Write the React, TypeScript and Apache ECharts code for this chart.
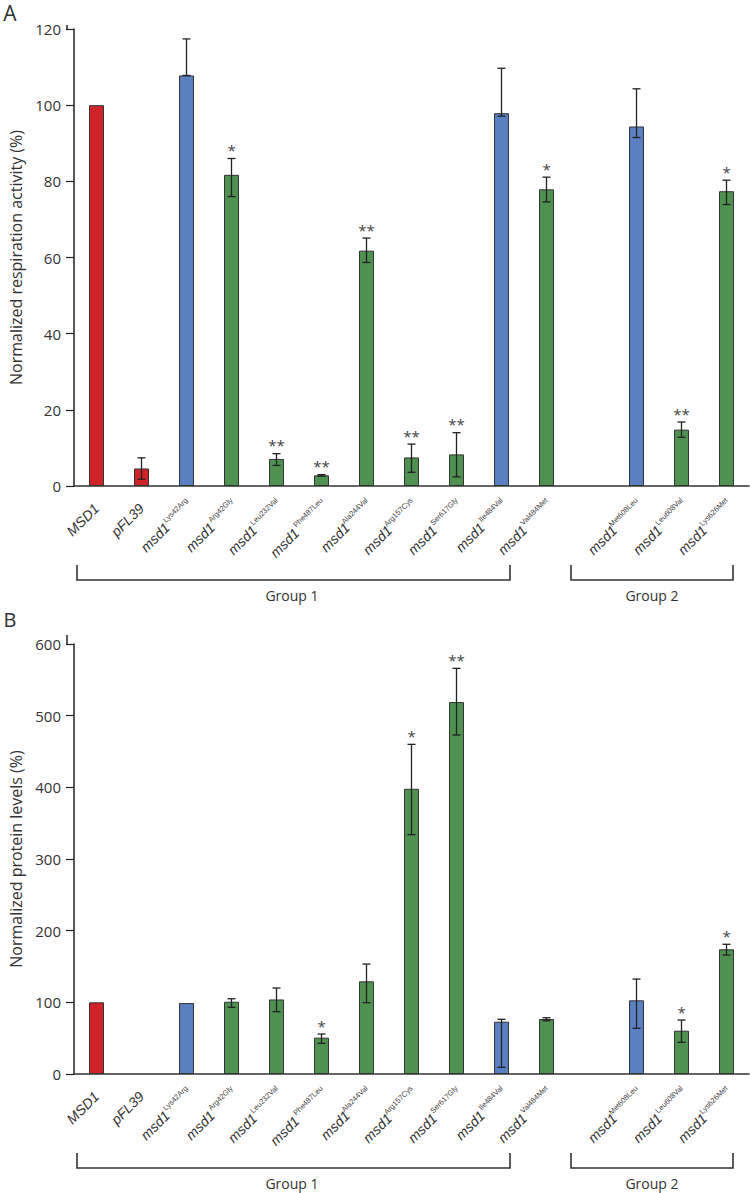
import React, { useEffect, useRef } from 'react';
import * as echarts from 'echarts';

// Categories (index 11 is an empty spacer slot between groups)
const variants = ['MSD1', 'pFL39', 'Lys42Arg', 'Arg42Gly', 'Leu232Val', 'Phe487Leu', 'Ala244Val', 'Arg157Cys', 'Ser617Gly', 'Ile484Val', 'Val484Met', '', 'Met608Leu', 'Leu608Val', 'Lys626Met'];
const kinds = ['control', 'control', 'neutral', 'variant', 'variant', 'variant', 'variant', 'variant', 'variant', 'neutral', 'variant', '', 'neutral', 'variant', 'variant'];

// Panel A: normalized respiration activity (%)
const respValues = [100, 4.6, 107.8, 81.7, 7.1, 2.8, 61.8, 7.5, 8.3, 97.9, 77.9, null, 94.4, 14.8, 77.4];
const respLow = [null, 1.8, 107.8, 76.0, 5.4, 2.6, 58.7, 3.6, 2.4, 97.1, 74.6, null, 91.5, 12.8, 73.9];
const respHigh = [null, 7.4, 117.4, 86.0, 8.5, 3.0, 65.1, 11.0, 14.0, 109.7, 81.1, null, 104.3, 16.8, 80.3];
const respStars = ['', '', '', '*', '**', '**', '**', '**', '**', '', '*', '', '', '**', '*'];

// Panel B: normalized protein levels (%)
const protValues = [100, null, 99, 100.8, 104, 50.7, 129.3, 398, 519, 73, 76.7, null, 102.8, 60.4, 174];
const protLow = [null, null, null, 93, 87, 42.8, 99.5, 334, 473, 9.3, 74.4, null, 63.7, 44.2, 166];
const protHigh = [null, null, null, 105, 120, 55.8, 153.4, 460, 566, 76.3, 78.5, null, 132.5, 75.3, 181];
const protStars = ['', '', '', '', '', '*', '', '*', '**', '', '', '', '', '*', '*'];

const groups = ['Group 1', 'Group 2'];

const FONT = 'Open Sans';
const LABEL_SIZE = 14;
const SUP_SIZE = 7.5;
const kindColor: Record<string, string> = {
  control: '#cf2329',
  neutral: '#5b80c2',
  variant: '#4f9150',
};

function barData(values: (number | null)[]) {
  return values.map((v, i) =>
    v == null ? '-' : { value: v, itemStyle: { color: kindColor[kinds[i]] } }
  );
}

function errData(low: (number | null)[], high: (number | null)[]) {
  const out: number[][] = [];
  low.forEach((l, i) => {
    const h = high[i];
    if (l != null && h != null) out.push([i, l, h]);
  });
  return out;
}

function errRender(stars: string[]) {
  return (params: any, api: any) => {
    const xi = api.value(0);
    const lo = api.coord([xi, api.value(1)]);
    const hi = api.coord([xi, api.value(2)]);
    const cap = 4;
    const st = { stroke: '#222', lineWidth: 1.3 };
    const children: any[] = [
      { type: 'line', shape: { x1: lo[0], y1: lo[1], x2: hi[0], y2: hi[1] }, style: st },
      { type: 'line', shape: { x1: lo[0] - cap, y1: lo[1], x2: lo[0] + cap, y2: lo[1] }, style: st },
      { type: 'line', shape: { x1: hi[0] - cap, y1: hi[1], x2: hi[0] + cap, y2: hi[1] }, style: st },
    ];
    const s = stars[xi];
    if (s) {
      children.push({
        type: 'text',
        x: hi[0],
        y: hi[1] - 1,
        style: { text: s, align: 'center', verticalAlign: 'bottom', fontSize: 15, fill: '#444', fontFamily: FONT },
      });
    }
    return { type: 'group', children };
  };
}

let measureCtx: CanvasRenderingContext2D | null = null;
function measure(text: string, font: string, fallbackPerChar: number) {
  if (!measureCtx) measureCtx = document.createElement('canvas').getContext('2d');
  if (!measureCtx) return text.length * fallbackPerChar;
  measureCtx.font = font;
  return measureCtx.measureText(text).width;
}

// main label axis: "msd1" (italic) padded with no-break spaces so that the
// superscript (drawn by a second, overlaid axis) sits right after it
function mainAxis(gridIndex: number) {
  const nbspW = measure('\u00A0', `italic ${LABEL_SIZE}px sans-serif`, 3.9) || 3.9;
  return {
    type: 'category',
    gridIndex,
    position: 'bottom',
    data: variants,
    axisTick: { show: false },
    axisLine: { lineStyle: { color: '#333', width: 1.5 } },
    axisLabel: {
      interval: 0,
      rotate: 45,
      margin: 20,
      fontSize: LABEL_SIZE,
      fontStyle: 'italic',
      color: '#333',
      formatter: (value: string, idx: number) => {
        if (!value) return '';
        if (idx <= 1) return value;
        const supW = measure(value, `${SUP_SIZE}px sans-serif`, 4.3);
        const n = Math.max(0, Math.round((supW - 4.5) / nbspW));
        return 'msd1' + '\u00A0'.repeat(n);
      },
    },
  };
}

function supAxis(gridIndex: number) {
  return {
    type: 'category',
    gridIndex,
    position: 'bottom',
    data: variants,
    axisTick: { show: false },
    axisLine: { show: false },
    axisLabel: {
      interval: 0,
      rotate: 45,
      margin: 13,
      fontSize: SUP_SIZE,
      color: '#444',
      formatter: (value: string, idx: number) => (idx <= 1 || !value ? '' : value),
    },
  };
}

const yAxisBase = (gridIndex: number, max: number, interval: number, name: string) => ({
  type: 'value',
  gridIndex,
  min: 0,
  max,
  interval,
  name,
  nameLocation: 'middle',
  nameGap: 50,
  nameTextStyle: { fontSize: 16, color: '#333', fontFamily: FONT },
  axisLine: { show: true, lineStyle: { color: '#222', width: 1.5 } },
  axisTick: { show: true, length: 8, lineStyle: { color: '#222', width: 1.2 } },
  splitLine: { show: false },
  axisLabel: { fontSize: 15, color: '#333', fontFamily: FONT, margin: 13 },
});

function bracket(x1: number, x2: number, yTop: number, yBot: number) {
  return {
    type: 'polyline',
    shape: { points: [[x1, yTop], [x1, yBot], [x2, yBot], [x2, yTop]] },
    style: { stroke: '#333', lineWidth: 1.6, fill: null },
  };
}

function gtext(text: string, x: number, y: number, size: number) {
  return {
    type: 'text',
    x,
    y,
    style: { text, fontSize: size, fill: '#333', fontFamily: FONT, align: 'center', verticalAlign: 'middle' },
  };
}

export default function App() {
  const ref = useRef<HTMLDivElement>(null);
  useEffect(() => {
    if (!ref.current) return;
    const chart = echarts.init(ref.current, null, { renderer: 'svg' });
    chart.setOption({
      animation: false,
      grid: [
        { left: 67, right: 1, top: 29, bottom: 707 },
        { left: 67, right: 1, top: 644, bottom: 119 },
      ],
      xAxis: [mainAxis(0), supAxis(0), mainAxis(1), supAxis(1)],
      yAxis: [
        yAxisBase(0, 120, 20, 'Normalized respiration activity (%)'),
        yAxisBase(1, 600, 100, 'Normalized protein levels (%)'),
      ],
      series: [
        {
          type: 'bar',
          xAxisIndex: 0,
          yAxisIndex: 0,
          barWidth: 15,
          data: barData(respValues),
          itemStyle: { borderColor: '#333', borderWidth: 1 },
          z: 2,
        },
        {
          type: 'custom',
          xAxisIndex: 0,
          yAxisIndex: 0,
          data: errData(respLow, respHigh),
          encode: { x: 0, y: [1, 2] },
          renderItem: errRender(respStars),
          z: 3,
        },
        {
          type: 'bar',
          xAxisIndex: 2,
          yAxisIndex: 1,
          barWidth: 15,
          data: barData(protValues),
          itemStyle: { borderColor: '#333', borderWidth: 1 },
          z: 2,
        },
        {
          type: 'custom',
          xAxisIndex: 2,
          yAxisIndex: 1,
          data: errData(protLow, protHigh),
          encode: { x: 0, y: [1, 2] },
          renderItem: errRender(protStars),
          z: 3,
        },
      ],
      graphic: [
        { type: 'line', shape: { x1: 67, y1: 25, x2: 67, y2: 30 }, style: { stroke: '#222', lineWidth: 1.5 } },
        { type: 'line', shape: { x1: 67, y1: 635, x2: 67, y2: 645 }, style: { stroke: '#222', lineWidth: 1.5 } },
        gtext('A', 10, 13, 21),
        gtext('B', 10, 619, 20),
        bracket(77, 510, 565, 580),
        bracket(571, 733, 565, 580),
        gtext(groups[0], 292, 595, 14),
        gtext(groups[1], 652, 595, 14),
        bracket(77, 510, 1153, 1168),
        bracket(571, 733, 1153, 1168),
        gtext(groups[0], 292, 1183, 14),
        gtext(groups[1], 652, 1183, 14),
      ],
    });
    return () => chart.dispose();
  }, []);
  return <div ref={ref} style={{ position: 'absolute', left: 0, top: 0, width: 750, height: 1193 }} />;
}
